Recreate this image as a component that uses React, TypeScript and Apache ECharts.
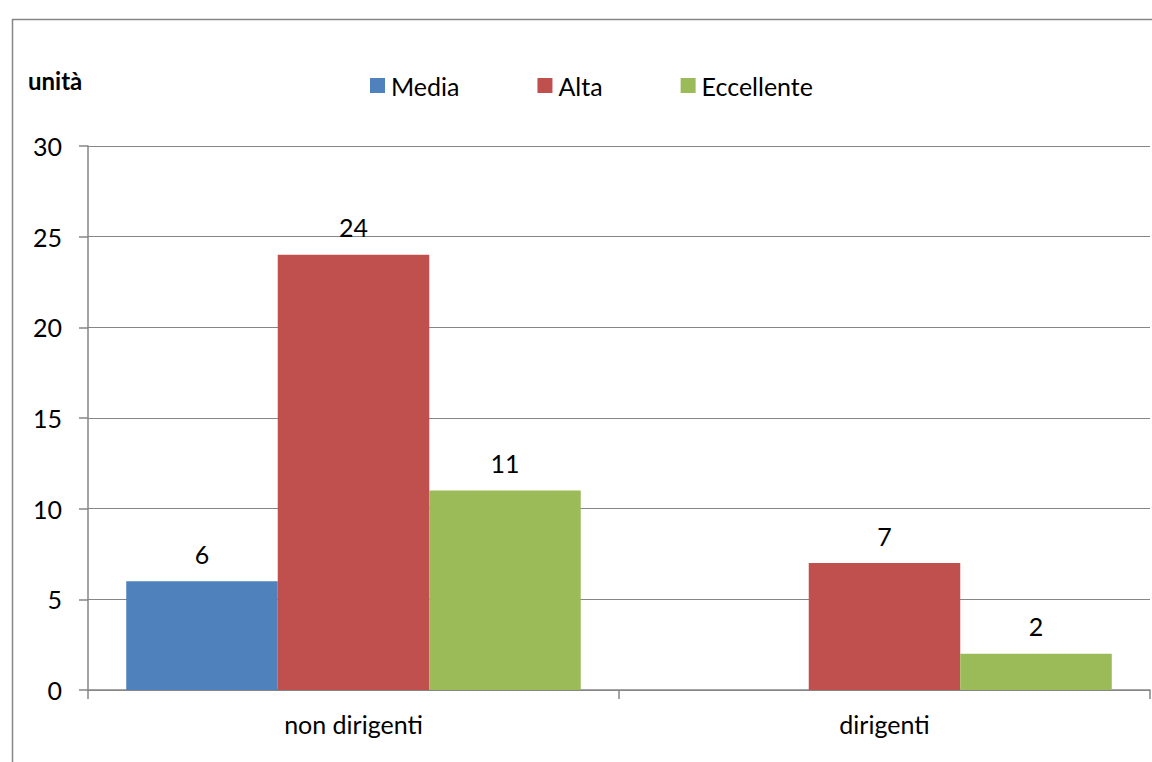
import React, { useEffect, useRef } from "react";
import * as echarts from "echarts";

const categories = ["non dirigenti", "dirigenti"];
const seriesNames = ["Media", "Alta", "Eccellente"];
const media: (number | null)[] = [6, null];
const alta: (number | null)[] = [24, 7];
const eccellente: (number | null)[] = [11, 2];
const colors = ["#4F81BD", "#C0504D", "#9BBB59"];
const yTitle = "unità";

const FONT = "Lato, 'Noto Sans', sans-serif";
const FS = 25;

export default function App() {
  const ref = useRef<HTMLDivElement>(null);
  useEffect(() => {
    const chart = echarts.init(ref.current!, undefined, { renderer: "svg" });
    const values = [media, alta, eccellente];
    chart.setOption({
      animation: false,
      backgroundColor: "#ffffff",
      textStyle: { fontFamily: FONT },
      graphic: [
        {
          type: "rect",
          left: 10,
          top: 17,
          shape: { width: 1200, height: 800 },
          style: { fill: "none", stroke: "#868686", lineWidth: 1.5 },
          silent: true,
        },
        {
          type: "text",
          left: 28,
          top: 68,
          style: {
            text: yTitle,
            fontSize: 24,
            fontWeight: "bold",
            fontFamily: FONT,
            fill: "#000",
          },
        },
      ],
      legend: {
        left: 365,
        top: 68,
        itemWidth: 15,
        itemHeight: 15,
        itemGap: 78,
        icon: "rect",
        textStyle: { fontSize: FS, color: "#000", fontFamily: FONT, padding: [0, 0, 0, 1] },
        data: seriesNames,
      },
      grid: { left: 88, top: 146, width: 1062, height: 544, containLabel: false },
      xAxis: {
        type: "category",
        data: categories,
        axisLine: { show: true, lineStyle: { color: "#868686", width: 1.5 } },
        axisTick: { show: true, length: 9, lineStyle: { color: "#868686", width: 1.5 } },
        axisLabel: { fontSize: FS, color: "#000", margin: 21, fontFamily: FONT },
      },
      yAxis: {
        type: "value",
        min: 0,
        max: 30,
        interval: 5,
        axisLine: { show: true, lineStyle: { color: "#868686", width: 1.5 } },
        axisTick: { show: true, length: 9, lineStyle: { color: "#868686", width: 1.5 } },
        axisLabel: { fontSize: FS, color: "#000", margin: 26, fontFamily: FONT },
        splitLine: { show: true, lineStyle: { color: "#868686", width: 1.2 } },
      },
      series: seriesNames.map((name, i) => ({
        name,
        type: "bar",
        data: values[i],
        barGap: "0%",
        barCategoryGap: "14.4%",
        itemStyle: { color: colors[i] },
        label: {
          show: true,
          position: "top",
          distance: 15,
          fontSize: FS,
          color: "#000",
          fontFamily: FONT,
        },
      })),
    });
    return () => chart.dispose();
  }, []);
  return (
    <div
      ref={ref}
      style={{ position: "absolute", left: 0, top: 0, width: 1152, height: 762 }}
    />
  );
}
